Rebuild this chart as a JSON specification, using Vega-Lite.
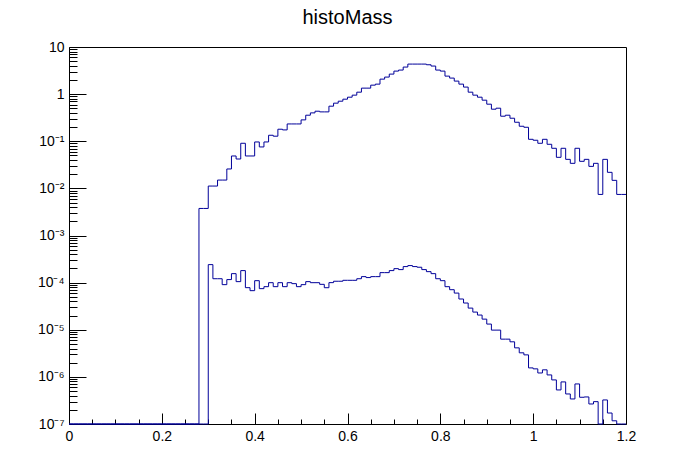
{
  "$schema": "https://vega.github.io/schema/vega-lite/v6.json",
  "width": 557,
  "height": 377,
  "autosize": "none",
  "padding": {"left": 69, "top": 47, "right": 70, "bottom": 48},
  "background": "white",
  "title": {
    "text": "histoMass",
    "font": "Liberation Sans",
    "fontSize": 20,
    "fontWeight": "normal",
    "color": "black",
    "anchor": "middle",
    "offset": 12
  },
  "data": {
    "values": [
      {"x": 0.00, "upper": 0, "lower": 0},
      {"x": 0.01, "upper": 0, "lower": 0},
      {"x": 0.02, "upper": 0, "lower": 0},
      {"x": 0.03, "upper": 0, "lower": 0},
      {"x": 0.04, "upper": 0, "lower": 0},
      {"x": 0.05, "upper": 0, "lower": 0},
      {"x": 0.06, "upper": 0, "lower": 0},
      {"x": 0.07, "upper": 0, "lower": 0},
      {"x": 0.08, "upper": 0, "lower": 0},
      {"x": 0.09, "upper": 0, "lower": 0},
      {"x": 0.10, "upper": 0, "lower": 0},
      {"x": 0.11, "upper": 0, "lower": 0},
      {"x": 0.12, "upper": 0, "lower": 0},
      {"x": 0.13, "upper": 0, "lower": 0},
      {"x": 0.14, "upper": 0, "lower": 0},
      {"x": 0.15, "upper": 0, "lower": 0},
      {"x": 0.16, "upper": 0, "lower": 0},
      {"x": 0.17, "upper": 0, "lower": 0},
      {"x": 0.18, "upper": 0, "lower": 0},
      {"x": 0.19, "upper": 0, "lower": 0},
      {"x": 0.20, "upper": 0, "lower": 0},
      {"x": 0.21, "upper": 0, "lower": 0},
      {"x": 0.22, "upper": 0, "lower": 0},
      {"x": 0.23, "upper": 0, "lower": 0},
      {"x": 0.24, "upper": 0, "lower": 0},
      {"x": 0.25, "upper": 0, "lower": 0},
      {"x": 0.26, "upper": 0, "lower": 0},
      {"x": 0.27, "upper": 0, "lower": 0},
      {"x": 0.28, "upper": 0.00375, "lower": 0},
      {"x": 0.29, "upper": 0.00375, "lower": 0},
      {"x": 0.30, "upper": 0.0112, "lower": 0.000241},
      {"x": 0.31, "upper": 0.0112, "lower": 0.000121},
      {"x": 0.32, "upper": 0.015, "lower": 0.000121},
      {"x": 0.33, "upper": 0.015, "lower": 0.0000906},
      {"x": 0.34, "upper": 0.0258, "lower": 0.000116},
      {"x": 0.35, "upper": 0.0487, "lower": 0.000155},
      {"x": 0.36, "upper": 0.042, "lower": 0.000105},
      {"x": 0.37, "upper": 0.0906, "lower": 0.00018},
      {"x": 0.38, "upper": 0.0487, "lower": 0.0000782},
      {"x": 0.39, "upper": 0.0487, "lower": 0.0000675},
      {"x": 0.40, "upper": 0.0966, "lower": 0.00011},
      {"x": 0.41, "upper": 0.0757, "lower": 0.0000745},
      {"x": 0.42, "upper": 0.0966, "lower": 0.0000821},
      {"x": 0.43, "upper": 0.134, "lower": 0.0000997},
      {"x": 0.44, "upper": 0.128, "lower": 0.0000821},
      {"x": 0.45, "upper": 0.18, "lower": 0.0000997},
      {"x": 0.46, "upper": 0.174, "lower": 0.0000821},
      {"x": 0.47, "upper": 0.233, "lower": 0.0000997},
      {"x": 0.48, "upper": 0.233, "lower": 0.0000951},
      {"x": 0.49, "upper": 0.233, "lower": 0.0000821},
      {"x": 0.50, "upper": 0.284, "lower": 0.0000906},
      {"x": 0.51, "upper": 0.357, "lower": 0.000105},
      {"x": 0.52, "upper": 0.4, "lower": 0.0000997},
      {"x": 0.53, "upper": 0.434, "lower": 0.0000997},
      {"x": 0.54, "upper": 0.42, "lower": 0.000092},
      {"x": 0.55, "upper": 0.42, "lower": 0.000078},
      {"x": 0.56, "upper": 0.555, "lower": 0.0001},
      {"x": 0.57, "upper": 0.643, "lower": 0.000107},
      {"x": 0.58, "upper": 0.708, "lower": 0.000107},
      {"x": 0.59, "upper": 0.781, "lower": 0.000112},
      {"x": 0.60, "upper": 0.861, "lower": 0.000112},
      {"x": 0.61, "upper": 0.951, "lower": 0.000112},
      {"x": 0.62, "upper": 1.1, "lower": 0.000121},
      {"x": 0.63, "upper": 1.34, "lower": 0.000134},
      {"x": 0.64, "upper": 1.34, "lower": 0.000128},
      {"x": 0.65, "upper": 1.55, "lower": 0.000134},
      {"x": 0.66, "upper": 1.63, "lower": 0.000134},
      {"x": 0.67, "upper": 2.08, "lower": 0.000163},
      {"x": 0.68, "upper": 2.3, "lower": 0.000163},
      {"x": 0.69, "upper": 2.66, "lower": 0.00018},
      {"x": 0.70, "upper": 3.08, "lower": 0.000198},
      {"x": 0.71, "upper": 3.24, "lower": 0.000189},
      {"x": 0.72, "upper": 3.75, "lower": 0.000219},
      {"x": 0.73, "upper": 4.34, "lower": 0.00023},
      {"x": 0.74, "upper": 4.34, "lower": 0.000219},
      {"x": 0.75, "upper": 4.34, "lower": 0.000212},
      {"x": 0.76, "upper": 4.34, "lower": 0.000189},
      {"x": 0.77, "upper": 4.2, "lower": 0.000171},
      {"x": 0.78, "upper": 3.94, "lower": 0.000155},
      {"x": 0.79, "upper": 3.24, "lower": 0.000121},
      {"x": 0.80, "upper": 3.08, "lower": 0.00011},
      {"x": 0.81, "upper": 2.41, "lower": 0.000082},
      {"x": 0.82, "upper": 2.19, "lower": 0.0000708},
      {"x": 0.83, "upper": 1.89, "lower": 0.00006},
      {"x": 0.84, "upper": 1.63, "lower": 0.0000449},
      {"x": 0.85, "upper": 1.41, "lower": 0.0000369},
      {"x": 0.86, "upper": 1.1, "lower": 0.0000288},
      {"x": 0.87, "upper": 0.951, "lower": 0.0000237},
      {"x": 0.88, "upper": 0.861, "lower": 0.0000205},
      {"x": 0.89, "upper": 0.744, "lower": 0.0000168},
      {"x": 0.90, "upper": 0.612, "lower": 0.0000132},
      {"x": 0.91, "upper": 0.479, "lower": 0.00000982},
      {"x": 0.92, "upper": 0.503, "lower": 0.00000982},
      {"x": 0.93, "upper": 0.34, "lower": 0.00000632},
      {"x": 0.94, "upper": 0.357, "lower": 0.00000632},
      {"x": 0.95, "upper": 0.308, "lower": 0.00000555},
      {"x": 0.96, "upper": 0.253, "lower": 0.00000413},
      {"x": 0.97, "upper": 0.208, "lower": 0.00000324},
      {"x": 0.98, "upper": 0.198, "lower": 0.00000293},
      {"x": 0.99, "upper": 0.11, "lower": 0.00000155},
      {"x": 1.00, "upper": 0.105, "lower": 0.00000148},
      {"x": 1.01, "upper": 0.0906, "lower": 0.00000121},
      {"x": 1.02, "upper": 0.11, "lower": 0.00000141},
      {"x": 1.03, "upper": 0.0862, "lower": 0.0000011},
      {"x": 1.04, "upper": 0.0709, "lower": 0.000000862},
      {"x": 1.05, "upper": 0.0456, "lower": 0.000000528},
      {"x": 1.06, "upper": 0.0709, "lower": 0.000000782},
      {"x": 1.07, "upper": 0.0413, "lower": 0.000000434},
      {"x": 1.08, "upper": 0.034, "lower": 0.00000034},
      {"x": 1.09, "upper": 0.0709, "lower": 0.000000708},
      {"x": 1.10, "upper": 0.0375, "lower": 0.000000369},
      {"x": 1.11, "upper": 0.0413, "lower": 0.000000375},
      {"x": 1.12, "upper": 0.0293, "lower": 0.000000266},
      {"x": 1.13, "upper": 0.034, "lower": 0.000000298},
      {"x": 1.14, "upper": 0.00744, "lower": 0},
      {"x": 1.15, "upper": 0.0413, "lower": 0.000000324},
      {"x": 1.16, "upper": 0.0219, "lower": 0.000000171},
      {"x": 1.17, "upper": 0.0148, "lower": 0.000000117},
      {"x": 1.18, "upper": 0.00744, "lower": 0},
      {"x": 1.19, "upper": 0.00744, "lower": 0},
      {"x": 1.20, "upper": 0.00744, "lower": 0}
    ]
  },
  "encoding": {
    "x": {
      "field": "x",
      "type": "quantitative",
      "scale": {"domain": [0, 1.2], "nice": false, "zero": false}
    }
  },
  "layer": [
    {
      "mark": {"type": "line", "interpolate": "step-after", "color": "#000099", "strokeWidth": 1},
      "encoding": {
        "x": {
          "field": "x",
          "type": "quantitative",
          "axis": {
            "orient": "bottom",
            "title": null,
            "grid": false,
            "domain": false,
            "values": [0, 0.2, 0.4, 0.6, 0.8, 1, 1.2],
            "format": "~g",
            "tickSize": -11,
            "tickColor": "black",
            "labelPadding": 16,
            "labelFont": "Liberation Sans",
            "labelFontSize": 14,
            "labelColor": "black",
            "labelFlush": false,
            "labelOverlap": false
          }
        },
        "y": {
          "field": "upper",
          "type": "quantitative",
          "scale": {"type": "log", "domain": [1e-7, 10], "clamp": true, "nice": false},
          "axis": {
            "orient": "left",
            "title": null,
            "grid": false,
            "domain": false,
            "values": [1e-7, 1e-6, 1e-5, 1e-4, 1e-3, 1e-2, 1e-1, 1, 10],
            "labelExpr": "datum.value > 5 ? '10' : datum.value > 0.5 ? '1' : '10⁻' + ['', '¹', '²', '³', '⁴', '⁵', '⁶', '⁷'][round(-log(datum.value) / LN10)]",
            "tickSize": -17,
            "tickColor": "black",
            "labelPadding": 22,
            "labelFont": "Liberation Sans",
            "labelFontSize": 14,
            "labelColor": "black",
            "labelFlush": false,
            "labelOverlap": false
          }
        }
      }
    },
    {
      "mark": {"type": "line", "interpolate": "step-after", "color": "#000099", "strokeWidth": 1},
      "encoding": {
        "x": {
          "field": "x",
          "type": "quantitative",
          "axis": {
            "orient": "bottom",
            "title": null,
            "grid": false,
            "domain": false,
            "labels": false,
            "values": [0.05, 0.1, 0.15, 0.25, 0.3, 0.35, 0.45, 0.5, 0.55, 0.65, 0.7, 0.75, 0.85, 0.9, 0.95, 1.05, 1.1, 1.15],
            "tickSize": -5,
            "tickColor": "black"
          }
        },
        "y": {
          "field": "lower",
          "type": "quantitative",
          "axis": {
            "orient": "left",
            "title": null,
            "grid": false,
            "domain": false,
            "labels": false,
            "values": [
              2e-7, 3e-7, 4e-7, 5e-7, 6e-7, 7e-7, 8e-7, 9e-7,
              2e-6, 3e-6, 4e-6, 5e-6, 6e-6, 7e-6, 8e-6, 9e-6,
              2e-5, 3e-5, 4e-5, 5e-5, 6e-5, 7e-5, 8e-5, 9e-5,
              2e-4, 3e-4, 4e-4, 5e-4, 6e-4, 7e-4, 8e-4, 9e-4,
              2e-3, 3e-3, 4e-3, 5e-3, 6e-3, 7e-3, 8e-3, 9e-3,
              0.02, 0.03, 0.04, 0.05, 0.06, 0.07, 0.08, 0.09,
              0.2, 0.3, 0.4, 0.5, 0.6, 0.7, 0.8, 0.9,
              2, 3, 4, 5, 6, 7, 8, 9
            ],
            "tickSize": -8,
            "tickColor": "black"
          }
        }
      }
    }
  ],
  "resolve": {"axis": {"x": "independent", "y": "independent"}},
  "config": {
    "view": {"stroke": "black", "strokeWidth": 1},
    "axis": {"tickWidth": 1, "ticks": true}
  }
}
